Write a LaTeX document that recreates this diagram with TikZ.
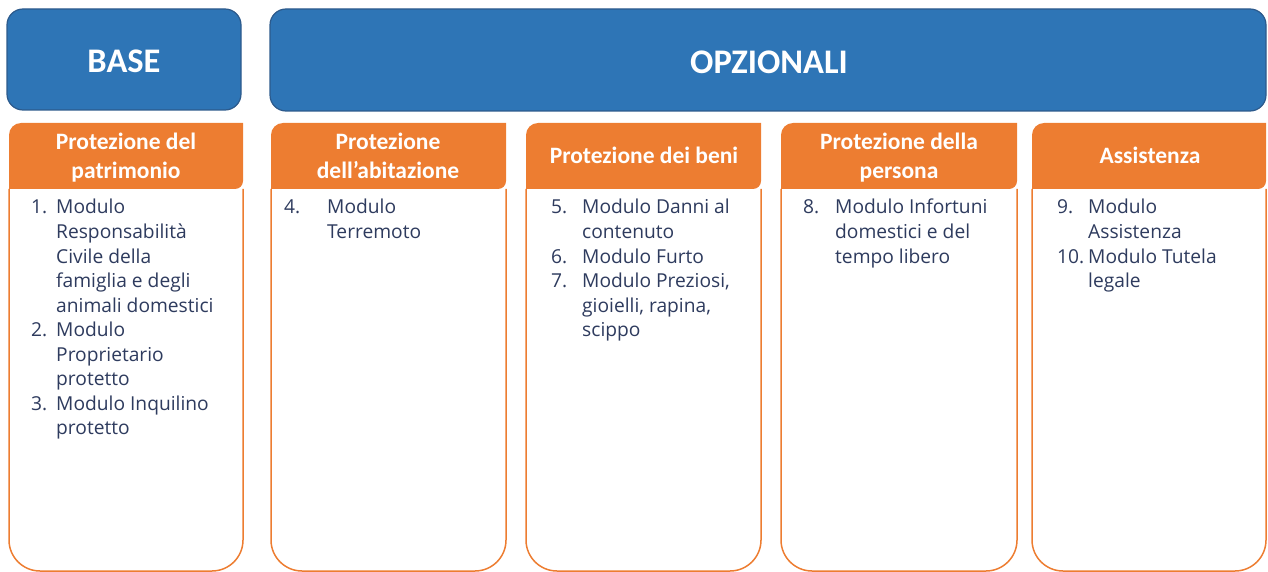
\documentclass[tikz,border=0pt]{standalone}
\usepackage{fontspec}
\setmainfont{Carlito}
\newfontfamily\bodyfont{Open Sans}
\definecolor{bluefill}{HTML}{2E75B6}
\definecolor{blueline}{HTML}{2C5A8C}
\definecolor{orangec}{HTML}{ED7D31}
\definecolor{navytext}{HTML}{2E3B5E}
\tikzset{
  bluebox/.style={draw=blueline, line width=1.2pt, fill=bluefill, rounded corners=16pt, text=white, font=\fontsize{34.5}{38}\selectfont\bfseries, inner sep=0pt},
  hdrfill/.style={fill=orangec},
  bodybox/.style={draw=orangec, line width=1.5pt, fill=white},
  hdrtext/.style={text=white, anchor=base, inner sep=0pt},
  numtxt/.style={text=navytext, anchor=base west, inner sep=0pt, font=\bodyfont\fontsize{19.2}{24.5}\selectfont},
}
\newcommand\mkcolumn[2]{%
  \draw[bodybox] (#1,-189) -- (#1,-540) arc[start angle=180,end angle=270,radius=31] -- (#2-31,-571) arc[start angle=270,end angle=360,radius=31] -- (#2,-189);
  \fill[hdrfill] (#1,-189) -- (#1,-135) arc[start angle=180,end angle=90,radius=12] -- (#2,-123) -- (#2,-181) arc[start angle=0,end angle=-90,radius=8] -- cycle;
}
\newcommand\ttl[1]{\parbox[t]{240pt}{\centering\fontsize{23.5}{29}\selectfont\bfseries #1}}
\newcommand\itm[1]{\parbox[t]{230pt}{\raggedright #1}}
\begin{document}
\begin{tikzpicture}[x=1pt,y=1pt]
\useasboundingbox (0,0) rectangle (1268,-572);
\node[bluebox, minimum width=234pt, minimum height=101pt] (base) at (124,-59.5) {};
\node[text=white, font=\fontsize{34.5}{38}\selectfont\bfseries, inner sep=0pt] (basetxt) at (124,-61) {BASE};
\node[bluebox, minimum width=996pt, minimum height=102pt] (opz) at (768,-60) {};
\node[text=white, font=\fontsize{34.5}{38}\selectfont\bfseries, inner sep=0pt] (opztxt) at (769,-62) {OPZIONALI};

\mkcolumn{9}{243}
\mkcolumn{271}{506}
\mkcolumn{526}{761}
\mkcolumn{781}{1017}
\mkcolumn{1032}{1266}

\node[hdrtext] (h1) at (126,-149.5) {\ttl{Protezione del\\patrimonio}};
\node[hdrtext] (h2) at (388,-149.5) {\ttl{Protezione\\dell’abitazione}};
\node[hdrtext] (h3) at (644,-164) {\ttl{Protezione dei beni}};
\node[hdrtext] (h4) at (899,-149.5) {\ttl{Protezione della\\persona}};
\node[hdrtext] (h5) at (1150,-164) {\ttl{Assistenza}};

% column 1
\node[numtxt] (n1) at (31,-214) {1.};
\node[numtxt] (t1) at (56,-214) {\itm{Modulo\\Responsabilità\\Civile della\\famiglia e degli\\animali domestici}};
\node[numtxt] (n2) at (31,-336.5) {2.};
\node[numtxt] (t2) at (56,-336.5) {\itm{Modulo\\Proprietario\\protetto}};
\node[numtxt] (n3) at (31,-410) {3.};
\node[numtxt] (t3) at (56,-410) {\itm{Modulo Inquilino\\protetto}};
% column 2
\node[numtxt] (n4) at (284,-214) {4.};
\node[numtxt] (t4) at (327,-214) {\itm{Modulo\\Terremoto}};
% column 3
\node[numtxt] (n5) at (551,-214) {5.};
\node[numtxt] (t5) at (582,-214) {\itm{Modulo Danni al\\contenuto}};
\node[numtxt] (n6) at (551,-263) {6.};
\node[numtxt] (t6) at (582,-263) {\itm{Modulo Furto}};
\node[numtxt] (n7) at (551,-287.5) {7.};
\node[numtxt] (t7) at (582,-287.5) {\itm{Modulo Preziosi,\\gioielli, rapina,\\scippo}};
% column 4
\node[numtxt] (n8) at (803,-214) {8.};
\node[numtxt] (t8) at (835,-214) {\itm{Modulo Infortuni\\domestici e del\\tempo libero}};
% column 5
\node[numtxt] (n9) at (1057,-214) {9.};
\node[numtxt] (t9) at (1088,-214) {\itm{Modulo\\Assistenza}};
\node[numtxt] (n10) at (1057,-263) {10.};
\node[numtxt] (t10) at (1088,-263) {\itm{Modulo Tutela\\legale}};
\end{tikzpicture}
\end{document}
